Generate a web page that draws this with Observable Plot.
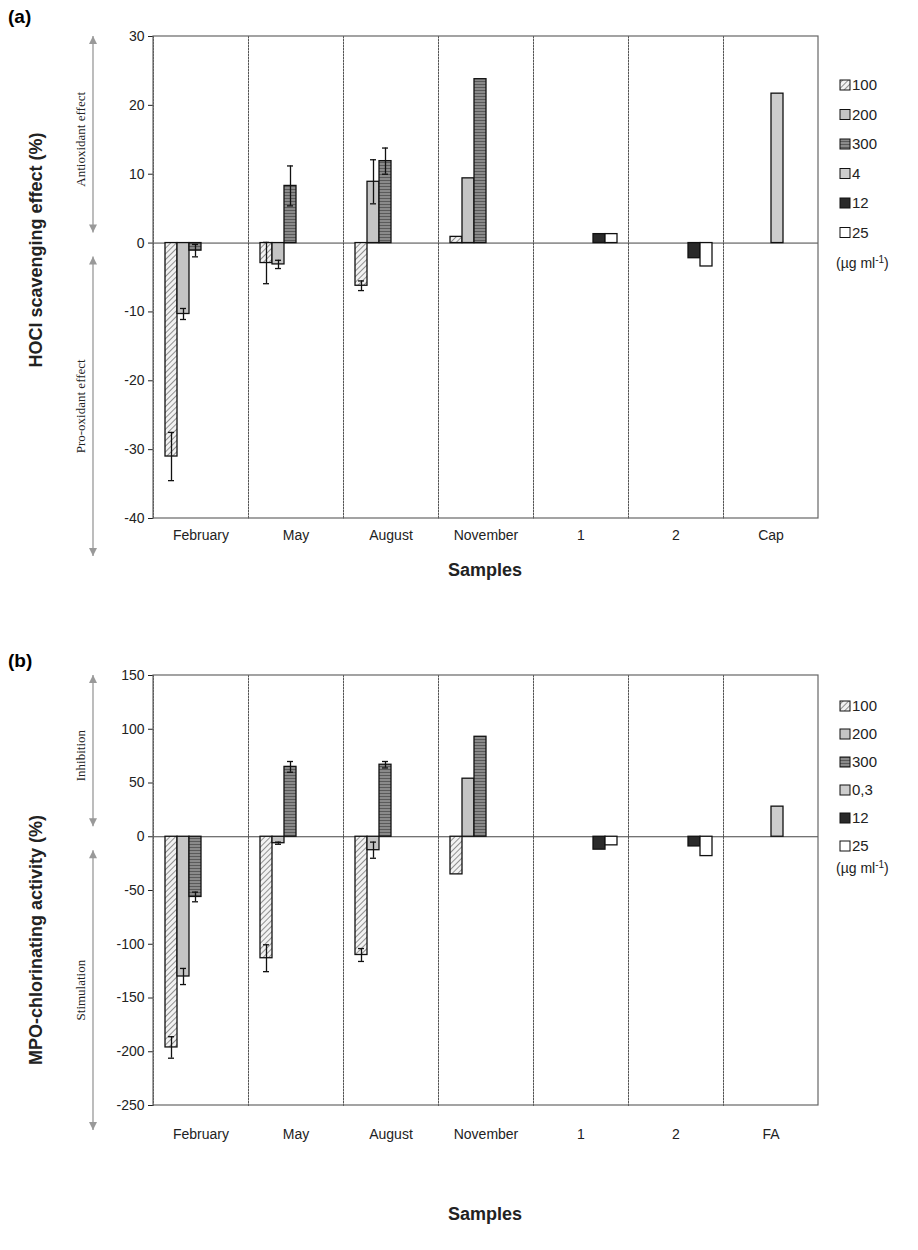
<!DOCTYPE html>
<html><head><meta charset="utf-8">
<script src="https://cdn.jsdelivr.net/npm/d3@7"></script>
<script src="https://cdn.jsdelivr.net/npm/@observablehq/plot@0.6"></script>
<style>
body{margin:0;background:#fff;font-family:Arial,"Liberation Sans",sans-serif}
.panel{position:relative;width:918px}
.tag{position:absolute;left:8px;font-weight:bold;font-size:19px}
</style></head>
<body>
<svg width="0" height="0" style="position:absolute">
  <defs>
    <pattern id="hatch" width="4" height="4" patternUnits="userSpaceOnUse" patternTransform="rotate(45)">
      <rect width="4" height="4" fill="#f2f2f2"/><line x1="0" y1="0" x2="0" y2="4" stroke="#777" stroke-width="1.6"/>
    </pattern>
    <pattern id="hlines" width="4" height="3" patternUnits="userSpaceOnUse">
      <rect width="4" height="3" fill="#8a8a8a"/><line x1="0" y1="0.5" x2="4" y2="0.5" stroke="#5a5a5a" stroke-width="1"/>
    </pattern>
  </defs>
</svg>
<div class="panel" id="a"><div class="tag" style="top:6px">(a)</div></div>
<div class="panel" id="b"><div class="tag" style="top:40px">(b)</div></div>
<script>
const seriesFill = ["url(#hatch)", "#c4c4c4", "url(#hlines)", "#cdcdcd", "#2a2a2a", "#ffffff"];

// panel (a)
const categoriesA = ["February", "May", "August", "November", "1", "2", "Cap"];
const seriesA = ["100", "200", "300", "4", "12", "25"];
const valuesA = [
  [-31, -10.3, -1.1, null, null, null],
  [-2.9, -3.1, 8.3, null, null, null],
  [-6.2, 8.9, 11.9, null, null, null],
  [0.9, 9.4, 23.8, null, null, null],
  [null, null, null, null, 1.3, 1.3],
  [null, null, null, null, -2.2, -3.4],
  [null, null, null, 21.7, null, null]
];
const errA = [
  [3.5, 0.8, 0.9, null, null, null],
  [3.0, 0.6, 2.9, null, null, null],
  [0.7, 3.2, 1.9, null, null, null],
  [null, null, null, null, null, null],
  [null, null, null, null, null, null],
  [null, null, null, null, null, null],
  [null, null, null, null, null, null]
];
const ticksA = [-40, -30, -20, -10, 0, 10, 20, 30];

// panel (b)
const categoriesB = ["February", "May", "August", "November", "1", "2", "FA"];
const seriesB = ["100", "200", "300", "0,3", "12", "25"];
const valuesB = [
  [-196, -130, -56, null, null, null],
  [-113, -6, 65, null, null, null],
  [-110, -12.5, 67, null, null, null],
  [-35, 54, 93, null, null, null],
  [null, null, null, null, -12, -8],
  [null, null, null, null, -9, -18],
  [null, null, null, 28, null, null]
];
const errB = [
  [10, 7.5, 4.5, null, null, null],
  [12.5, 1, 5, null, null, null],
  [6, 7.5, 3, null, null, null],
  [null, null, null, null, null, null],
  [null, null, null, null, null, null],
  [null, null, null, null, null, null],
  [null, null, null, null, null, null]
];
const ticksB = [-250, -200, -150, -100, -50, 0, 50, 100, 150];

function panel(cfg) {
  const rows = [];
  cfg.cats.forEach((c, i) => cfg.series.forEach((s, j) => {
    const v = cfg.values[i][j];
    if (v != null) rows.push({cat: c, s, j, v, e: cfg.err[i][j]});
  }));
  const errRows = rows.filter(d => d.e != null);
  const plot = Plot.plot({
    width: 918, height: cfg.height,
    marginLeft: 153, marginRight: 100, marginTop: cfg.top, marginBottom: cfg.bottom,
    style: {fontFamily: "Arial, Liberation Sans, sans-serif", fontSize: "14px", color: "#222", overflow: "visible"},
    fx: {domain: cfg.cats, padding: 0, label: null, tickSize: 0, tickPadding: cfg.xPad},
    x: {domain: cfg.series, axis: null, paddingInner: 0, paddingOuter: 0.75},
    y: {domain: cfg.domain, ticks: cfg.ticks, tickSize: 5, label: null, tickFormat: d => String(d)},
    marks: [
      Plot.frame({anchor: "left", stroke: "#555", strokeDasharray: "1.5,1.5"}),
      Plot.ruleY([0], {stroke: "#444"}),
      Plot.barY(rows, {fx: "cat", x: "s", y: "v", fill: d => seriesFill[d.j], stroke: "#111", strokeWidth: 1.3}),
      Plot.ruleX(errRows, {fx: "cat", x: "s", y1: d => d.v - d.e, y2: d => d.v + d.e, stroke: "#111", strokeWidth: 1.3}),
      Plot.tickY(errRows, {fx: "cat", x: "s", y: d => d.v - d.e, stroke: "#111", strokeWidth: 1.3, insetLeft: 3, insetRight: 3}),
      Plot.tickY(errRows, {fx: "cat", x: "s", y: d => d.v + d.e, stroke: "#111", strokeWidth: 1.3, insetLeft: 3, insetRight: 3})
    ]
  });
  const svg = d3.select(plot);
  const y = plot.scale("y");
  const y0 = y.apply(cfg.domain[1]), y1 = y.apply(cfg.domain[0]), yz = y.apply(0);
  svg.append("rect").attr("x", 153).attr("y", y0).attr("width", 918 - 253).attr("height", y1 - y0)
    .attr("fill", "none").attr("stroke", "#666").attr("stroke-width", 1.2);
  // effect arrows
  const ax = 93;
  const arrow = (a, b) => {
    svg.append("line").attr("x1", ax).attr("x2", ax).attr("y1", a).attr("y2", b).attr("stroke", "#999").attr("stroke-width", 1.3);
    [a, b].forEach((p, k) => {
      const dir = k === 0 ? 1 : -1;
      svg.append("path").attr("d", `M${ax - 4},${p + dir * 8}L${ax},${p}L${ax + 4},${p + dir * 8}Z`).attr("fill", "#999");
    });
  };
  arrow(y0, yz - 10);
  arrow(yz + 14, y1 + cfg.arrowExtra);
  const sideText = (t, ym) => svg.append("text").attr("transform", `translate(${ax - 8},${ym}) rotate(-90)`)
    .attr("text-anchor", "middle").attr("font-family", "Liberation Serif, serif").attr("font-size", 13).text(t);
  sideText(cfg.upText, (y0 + yz) / 2);
  sideText(cfg.downText, (yz + 14 + y1 + cfg.arrowExtra) / 2);
  svg.append("text").attr("transform", `translate(42,${cfg.titleY}) rotate(-90)`).attr("text-anchor", "middle")
    .attr("font-weight", "bold").attr("font-size", 18).text(cfg.yTitle);
  svg.append("text").attr("x", 485).attr("y", cfg.height - cfg.samplesGap).attr("text-anchor", "middle")
    .attr("font-weight", "bold").attr("font-size", 18).text("Samples");
  // legend
  cfg.series.forEach((s, j) => {
    const ly = cfg.legendTop + j * cfg.legendStep;
    svg.append("rect").attr("x", 840).attr("y", ly - 10).attr("width", 10).attr("height", 10)
      .attr("fill", seriesFill[j]).attr("stroke", "#111");
    svg.append("text").attr("x", 852).attr("y", ly).attr("text-anchor", "start").attr("font-size", 15).text(s);
  });
  const u = svg.append("text").attr("x", 836).attr("y", yz + cfg.unitGap).attr("text-anchor", "start").attr("font-size", 14);
  u.append("tspan").text("(µg ml");
  u.append("tspan").attr("dy", -5).attr("font-size", 10).text("-1");
  u.append("tspan").attr("dy", 5).text(")");
  return plot;
}

document.getElementById("a").append(panel({
  cats: categoriesA, series: seriesA, values: valuesA, err: errA, ticks: ticksA, domain: [-40, 30],
  height: 610, top: 36, bottom: 92, xPad: 12, arrowExtra: 38, upText: "Antioxidant effect", downText: "Pro-oxidant effect",
  yTitle: "HOCl scavenging effect (%)", titleY: 250, samplesGap: 34, legendTop: 90, legendStep: 29.5, unitGap: 25
}));
document.getElementById("b").append(panel({
  cats: categoriesB, series: seriesB, values: valuesB, err: errB, ticks: ticksB, domain: [-250, 150],
  height: 640, top: 65, bottom: 145, xPad: 24, arrowExtra: 25, upText: "Inhibition", downText: "Stimulation",
  yTitle: "MPO-chlorinating activity (%)", titleY: 330, samplesGap: 30, legendTop: 101, legendStep: 28, unitGap: 37
}));
</script>
</body></html>
